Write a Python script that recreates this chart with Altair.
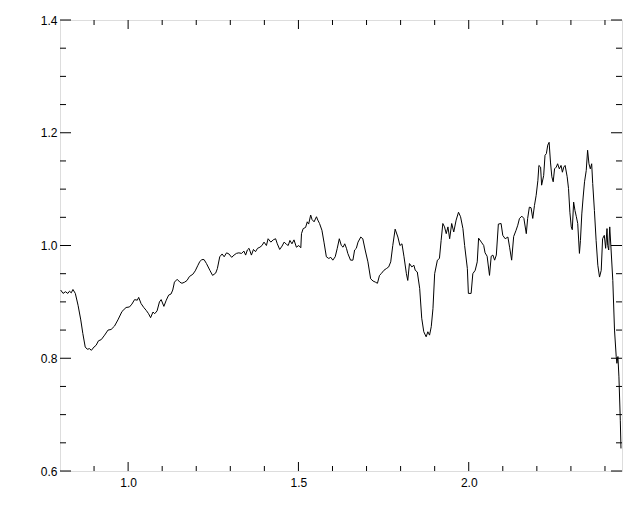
import altair as alt
import pandas as pd

wavelength = [
    0.802, 0.809, 0.816, 0.823, 0.828, 0.833, 0.838, 0.845, 0.853, 0.861, 0.867, 0.874, 0.880, 0.887,
    0.892, 0.900, 0.906, 0.913, 0.921, 0.931, 0.941, 0.950, 0.960, 0.970, 0.982, 0.994, 1.004, 1.011,
    1.019, 1.027, 1.031, 1.038, 1.046, 1.053, 1.060, 1.066, 1.073, 1.078, 1.085, 1.092, 1.097, 1.105,
    1.112, 1.119, 1.126, 1.131, 1.136, 1.144, 1.152, 1.158, 1.166, 1.173, 1.180, 1.190, 1.197, 1.205,
    1.210,
    1.216, 1.223, 1.230, 1.240, 1.248, 1.257, 1.262, 1.269, 1.276, 1.282, 1.289, 1.296, 1.304, 1.311,
    1.318, 1.325, 1.333, 1.340, 1.345, 1.350, 1.355, 1.362, 1.368, 1.374, 1.380, 1.387, 1.393, 1.399,
    1.406, 1.411, 1.419, 1.426, 1.433, 1.438, 1.445, 1.452, 1.458, 1.465, 1.470, 1.475, 1.481, 1.487,
    1.494, 1.501, 1.507, 1.509, 1.514, 1.521, 1.526, 1.530, 1.536, 1.540, 1.546, 1.553, 1.557, 1.562,
    1.569, 1.575, 1.582, 1.589, 1.595, 1.601, 1.608,
    1.614, 1.620, 1.626, 1.631, 1.636, 1.641, 1.645, 1.653, 1.660, 1.665, 1.670, 1.675, 1.683, 1.689,
    1.696, 1.704, 1.712, 1.719, 1.726, 1.732, 1.738, 1.743, 1.751, 1.758, 1.765, 1.771, 1.777, 1.784,
    1.792, 1.798, 1.804, 1.810, 1.817, 1.821, 1.826, 1.833, 1.839, 1.843, 1.849, 1.856, 1.862, 1.868,
    1.875, 1.880, 1.885, 1.890, 1.895, 1.900, 1.908, 1.914, 1.919, 1.924, 1.929, 1.934, 1.939, 1.944,
    1.950, 1.956, 1.963, 1.970, 1.976, 1.983, 1.988, 1.996, 1.999, 2.007, 2.012, 2.019, 2.025, 2.029,
    2.037, 2.044, 2.048, 2.054, 2.061, 2.066, 2.071, 2.076, 2.081, 2.087, 2.095, 2.100, 2.107, 2.115,
    2.120, 2.126, 2.132, 2.139, 2.144, 2.149, 2.156, 2.162, 2.169, 2.173, 2.178, 2.183, 2.188, 2.193,
    2.198, 2.203, 2.206, 2.211, 2.214, 2.220, 2.224, 2.228, 2.232, 2.236, 2.240, 2.244, 2.248, 2.252,
    2.257, 2.261, 2.266, 2.271, 2.275, 2.279, 2.283, 2.289, 2.293, 2.297, 2.301, 2.304, 2.308, 2.312,
    2.316, 2.320, 2.325, 2.328, 2.332, 2.336, 2.340, 2.345, 2.349, 2.353, 2.357, 2.361, 2.364, 2.369,
    2.374, 2.379, 2.384, 2.389, 2.393, 2.398, 2.402, 2.406, 2.408, 2.411, 2.414, 2.418, 2.423, 2.428,
    2.433, 2.435, 2.438, 2.441, 2.445, 2.447,
]

flux = [
    0.921, 0.915, 0.918, 0.915, 0.919, 0.916, 0.922, 0.915, 0.894, 0.868, 0.844, 0.820, 0.816, 0.817,
    0.814, 0.820, 0.823, 0.831, 0.833, 0.841, 0.850, 0.851, 0.857, 0.868, 0.883, 0.890, 0.891, 0.896,
    0.904, 0.903, 0.908, 0.897, 0.890, 0.885, 0.879, 0.872, 0.882, 0.879, 0.884, 0.900, 0.904, 0.892,
    0.903, 0.912, 0.914, 0.921, 0.935, 0.940, 0.935, 0.933, 0.935, 0.938, 0.945, 0.949, 0.955, 0.965,
    0.971,
    0.975, 0.975, 0.968, 0.956, 0.947, 0.951, 0.959, 0.980, 0.985, 0.980, 0.987, 0.985, 0.979, 0.983,
    0.986, 0.987, 0.986, 0.990, 0.983, 0.992, 0.995, 0.983, 0.993, 0.989, 0.995, 0.997, 1.000, 1.006,
    1.000, 1.012, 1.006, 1.010, 1.012, 1.003, 0.993, 0.999, 1.006, 1.002, 1.000, 1.009, 1.003, 1.010,
    0.997, 1.000, 0.996, 1.021, 1.030, 1.032, 1.042, 1.038, 1.054, 1.046, 1.042, 1.051, 1.045, 1.039,
    1.027, 1.006, 0.980, 0.977, 0.979, 0.974, 0.980,
    0.995, 1.012, 1.000, 0.997, 1.003, 0.995, 0.986, 0.974, 0.974, 0.992, 0.995, 1.006, 1.015, 1.012,
    0.992, 0.971, 0.941, 0.937, 0.935, 0.933, 0.947, 0.950, 0.956, 0.959, 0.962, 0.971, 1.000, 1.029,
    1.015, 1.000, 1.003, 0.980, 0.950, 0.938, 0.968, 0.962, 0.965, 0.956, 0.953, 0.924, 0.871, 0.847,
    0.838, 0.847, 0.841, 0.856, 0.888, 0.950, 0.974, 0.977, 1.009, 1.039, 1.033, 1.021, 1.033, 1.012,
    1.039, 1.024, 1.045, 1.059, 1.051, 1.030, 1.000, 0.959, 0.915, 0.915, 0.950, 0.956, 0.971, 1.013,
    1.006, 1.000, 0.987, 0.981, 0.947, 0.981, 0.983, 0.974, 0.983, 1.038, 1.039, 1.018, 1.012, 1.015,
    0.997, 0.974, 1.016, 1.027, 1.036, 1.048, 1.052, 1.048, 1.021, 1.048, 1.068, 1.067, 1.048, 1.071,
    1.089, 1.115, 1.142, 1.139, 1.107, 1.124, 1.160, 1.163, 1.178, 1.183, 1.148, 1.122, 1.113, 1.136,
    1.139, 1.145, 1.136, 1.142, 1.130, 1.139, 1.142, 1.122, 1.101, 1.059, 1.033, 1.028, 1.077, 1.062,
    1.051, 1.039, 0.986, 1.009, 1.056, 1.086, 1.113, 1.133, 1.169, 1.145, 1.136, 1.145, 1.110, 1.062,
    1.009, 0.965, 0.944, 0.956, 1.012, 1.018, 0.995, 1.030, 1.000, 0.992, 1.033, 0.992, 0.938, 0.850,
    0.803, 0.791, 0.803, 0.767, 0.690, 0.640,
]

x_major = [1.0, 1.5, 2.0]
x_minor = [0.9, 1.1, 1.2, 1.3, 1.4, 1.6, 1.7, 1.8, 1.9, 2.1, 2.2, 2.3, 2.4]
y_major = [0.6, 0.8, 1.0, 1.2, 1.4]
y_minor = [0.65, 0.7, 0.75, 0.85, 0.9, 0.95, 1.05, 1.1, 1.15, 1.25, 1.3, 1.35]

W, H = 562, 451
XDOM = [0.8, 2.45]
YDOM = [0.6, 1.4]
FONT = "Liberation Sans"

xs = alt.Scale(domain=XDOM, nice=False, zero=False)
ys = alt.Scale(domain=YDOM, nice=False, zero=False)

df = pd.DataFrame({"x": wavelength, "y": flux})

line = alt.Chart(df).mark_line(color="black", strokeWidth=1, clip=True).encode(
    x=alt.X("x:Q", scale=xs,
            axis=alt.Axis(values=x_major, format=".1f", title=None, ticks=False, domain=False,
                          grid=False, labelFont=FONT, labelFontSize=12, labelColor="black",
                          labelPadding=6, labelFlush=False)),
    y=alt.Y("y:Q", scale=ys,
            axis=alt.Axis(values=y_major, format=".1f", title=None, ticks=False, domain=False,
                          grid=False, labelFont=FONT, labelFontSize=12, labelColor="black",
                          labelPadding=3, labelFlush=False)),
    order=alt.Order("x:Q"),
)

def xticks(vals, length):
    d = pd.DataFrame({"t": vals})
    bottom = alt.Chart(d).mark_rule(color="black", strokeWidth=1).encode(
        x=alt.X("t:Q", scale=xs), y=alt.value(H), y2=alt.value(H - length))
    top = alt.Chart(d).mark_rule(color="black", strokeWidth=1).encode(
        x=alt.X("t:Q", scale=xs), y=alt.value(0), y2=alt.value(length))
    return [bottom, top]

def yticks(vals, length):
    d = pd.DataFrame({"t": vals})
    left = alt.Chart(d).mark_rule(color="black", strokeWidth=1).encode(
        y=alt.Y("t:Q", scale=ys), x=alt.value(0), x2=alt.value(length))
    right = alt.Chart(d).mark_rule(color="black", strokeWidth=1).encode(
        y=alt.Y("t:Q", scale=ys), x=alt.value(W), x2=alt.value(W - length))
    return [left, right]

layers = [line] + xticks(x_major, 9) + xticks(x_minor, 5) + yticks(y_major, 11) + yticks(y_minor, 6)

chart = alt.layer(*layers).properties(
    width=W, height=H,
    autosize="none",
    padding={"left": 52, "top": 12, "right": 10, "bottom": 30},
).configure_view(stroke="black", strokeWidth=1).configure(background="white")

chart.save("out.html", embed_options={"renderer": "svg", "actions": False})
